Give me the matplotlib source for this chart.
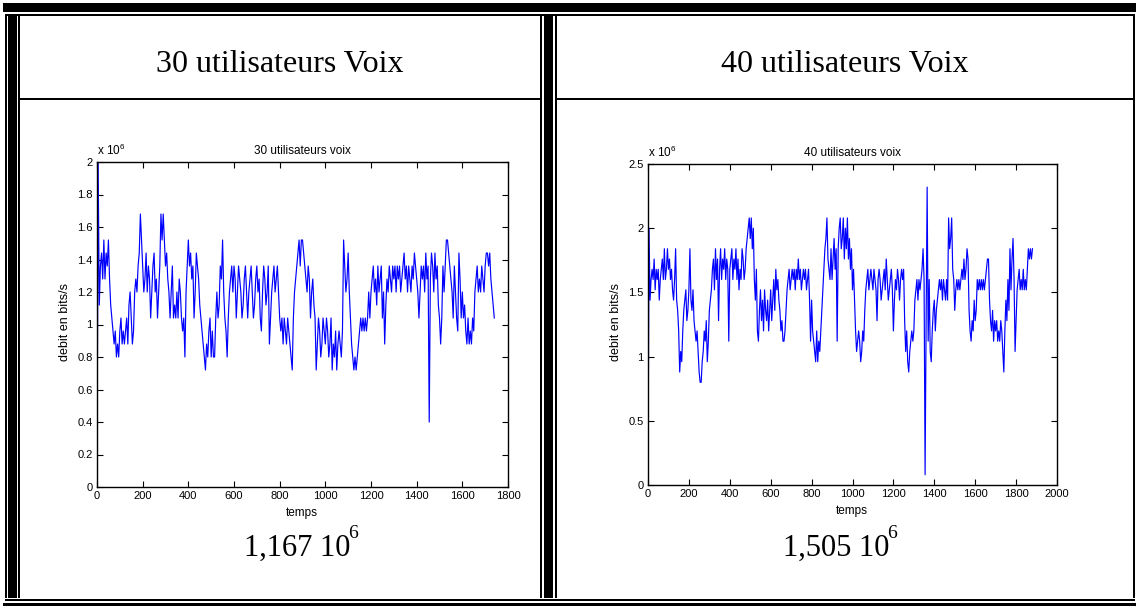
import numpy as np
import matplotlib.pyplot as plt
from matplotlib.patches import Rectangle
from matplotlib.ticker import FormatStrFormatter

plt.rcParams['font.family'] = ['Liberation Sans', 'DejaVu Sans']
plt.rcParams['mathtext.default'] = 'regular'

# debit (Mbit/s), one sample every 5 time steps
step = 5
debit_30 = [
    0, 2.0, 1.12, 1.36, 1.44, 1.28, 1.52, 1.28, 1.44, 1.36, 1.52, 1.28, 1.12, 1.04, 0.96, 0.88, 0.96, 0.8, 0.88, 0.8,
    0.96, 1.04, 0.88, 0.96, 0.88, 0.96, 1.04, 0.88, 1.12, 1.2, 1.04, 0.88, 0.96, 1.2, 1.28, 1.2, 1.36, 1.44, 1.68, 1.52,
    1.36, 1.2, 1.28, 1.44, 1.2, 1.36, 1.28, 1.04, 1.2, 1.36, 1.44, 1.2, 1.28, 1.04, 1.2, 1.36, 1.68, 1.52, 1.68, 1.52,
    1.36, 1.44, 1.28, 1.2, 1.04, 1.2, 1.36, 1.04, 1.12, 1.04, 1.2, 1.04, 1.28, 1.2, 1.04, 0.96, 1.04, 0.8, 1.2, 1.36,
    1.52, 1.36, 1.44, 1.28, 1.36, 1.04, 1.2, 1.44, 1.36, 1.28, 1.12, 1.04, 0.96, 0.88, 0.8, 0.72, 0.88, 0.8, 0.96, 1.04,
    0.8, 0.96, 0.8, 0.8, 1.04, 1.2, 1.04, 1.12, 1.36, 1.28, 1.52, 1.2, 1.04, 0.96, 0.8, 1.04, 1.2, 1.28, 1.36, 1.2,
    1.36, 1.28, 1.04, 1.2, 1.36, 1.28, 1.2, 1.04, 1.12, 1.28, 1.36, 1.2, 1.04, 1.2, 1.28, 1.36, 1.2, 1.04, 1.12, 1.28,
    1.36, 1.2, 1.28, 1.04, 0.96, 1.2, 1.36, 1.28, 1.12, 1.2, 1.36, 0.88, 1.04, 1.2, 1.28, 1.36, 1.2, 1.28, 1.36, 1.2,
    1.04, 0.96, 1.04, 0.88, 1.04, 0.96, 0.88, 1.04, 0.96, 0.88, 0.8, 0.72, 1.04, 1.2, 1.28, 1.36, 1.44, 1.52, 1.36, 1.52,
    1.52, 1.44, 1.36, 1.28, 1.2, 1.36, 1.28, 1.04, 1.2, 1.28, 1.12, 1.04, 0.72, 0.88, 1.04, 0.96, 0.8, 0.88, 1.04, 0.96,
    0.88, 1.04, 0.96, 0.8, 0.88, 1.04, 0.72, 0.88, 0.8, 0.96, 0.72, 0.88, 0.96, 0.88, 0.8, 0.96, 1.52, 1.36, 1.2, 1.28,
    1.44, 1.2, 1.04, 0.88, 0.8, 0.72, 0.8, 0.72, 0.8, 0.88, 0.96, 1.04, 0.96, 1.04, 0.96, 1.04, 0.96, 1.04, 1.2, 1.04,
    1.2, 1.28, 1.36, 1.2, 1.28, 1.12, 1.36, 1.2, 1.28, 1.36, 1.04, 1.2, 0.88, 1.12, 1.28, 1.2, 1.36, 1.28, 1.2, 1.36,
    1.28, 1.36, 1.2, 1.36, 1.28, 1.36, 1.2, 1.28, 1.36, 1.44, 1.28, 1.36, 1.2, 1.36, 1.28, 1.2, 1.36, 1.28, 1.44, 1.36,
    1.28, 1.2, 1.04, 1.2, 1.36, 1.28, 1.36, 1.2, 1.44, 1.28, 1.36, 0.4, 1.28, 1.44, 1.36, 1.2, 1.44, 1.28, 1.36, 1.12,
    1.04, 0.88, 1.04, 1.36, 1.2, 1.36, 1.52, 1.52, 1.44, 1.36, 1.28, 1.2, 1.04, 1.36, 1.2, 1.04, 0.96, 1.44, 1.28, 1.04,
    1.2, 1.04, 1.12, 0.96, 0.88, 1.04, 0.88, 0.96, 0.88, 1.04, 0.96, 1.2, 1.28, 1.36, 1.2, 1.28, 1.2, 1.36, 1.28, 1.2,
    1.36, 1.44, 1.44, 1.36, 1.44, 1.28, 1.2, 1.12, 1.04,
]
debit_40 = [
    0, 2.0, 1.44, 1.6, 1.68, 1.6, 1.76, 1.52, 1.68, 1.6, 1.68, 1.44, 1.6, 1.68, 1.76, 1.6, 1.84, 1.6, 1.68, 1.84,
    1.68, 1.76, 1.6, 1.68, 1.52, 1.44, 1.6, 1.84, 1.44, 1.36, 1.2, 0.88, 1.04, 0.96, 1.2, 1.36, 1.44, 1.52, 1.28, 1.36,
    1.52, 1.84, 1.44, 1.36, 1.52, 1.28, 1.2, 1.12, 1.2, 1.04, 0.88, 0.8, 0.8, 0.96, 1.04, 1.2, 1.12, 1.28, 0.96, 1.12,
    1.36, 1.44, 1.52, 1.68, 1.76, 1.52, 1.84, 1.6, 1.76, 1.28, 1.68, 1.84, 1.6, 1.76, 1.68, 1.84, 1.6, 1.76, 1.68, 1.12,
    1.68, 1.76, 1.84, 1.6, 1.76, 1.68, 1.84, 1.6, 1.76, 1.52, 1.68, 1.6, 1.84, 1.76, 1.6, 1.68, 1.84, 1.92, 2.0, 2.08,
    1.92, 2.08, 1.84, 2.0, 1.6, 1.44, 1.68, 1.2, 1.12, 1.36, 1.52, 1.28, 1.44, 1.2, 1.52, 1.36, 1.28, 1.44, 1.2, 1.36,
    1.52, 1.28, 1.44, 1.6, 1.36, 1.68, 1.52, 1.6, 1.44, 1.36, 1.2, 1.28, 1.12, 1.12, 1.2, 1.36, 1.52, 1.6, 1.68, 1.52,
    1.6, 1.68, 1.6, 1.68, 1.52, 1.68, 1.6, 1.76, 1.6, 1.68, 1.52, 1.6, 1.68, 1.6, 1.68, 1.52, 1.6, 1.68, 1.44, 1.12,
    1.44, 1.2, 1.12, 1.04, 0.96, 1.2, 0.96, 1.12, 1.04, 1.2, 1.36, 1.52, 1.68, 1.84, 1.92, 2.08, 1.76, 1.68, 1.6, 1.84,
    1.6, 1.76, 1.92, 1.68, 1.84, 1.12, 1.84, 2.0, 2.08, 1.84, 1.92, 2.08, 1.76, 2.0, 1.84, 2.08, 1.76, 1.92, 1.68, 1.84,
    1.52, 1.68, 1.44, 1.2, 1.04, 1.12, 1.2, 1.12, 0.96, 1.04, 1.2, 1.12, 1.36, 1.52, 1.6, 1.68, 1.52, 1.6, 1.68, 1.6,
    1.52, 1.68, 1.6, 1.52, 1.28, 1.6, 1.68, 1.6, 1.44, 1.52, 1.6, 1.68, 1.52, 1.76, 1.6, 1.44, 1.52, 1.6, 1.68, 1.52,
    1.2, 1.44, 1.6, 1.52, 1.68, 1.6, 1.44, 1.6, 1.68, 1.6, 1.68, 1.28, 1.04, 1.2, 0.96, 0.88, 1.04, 1.12, 1.2, 1.12,
    1.2, 1.44, 1.52, 1.6, 1.44, 1.6, 1.52, 1.6, 1.68, 1.84, 1.6, 0.08, 1.28, 2.32, 1.12, 1.6, 1.04, 0.96, 1.2, 1.36,
    1.44, 1.2, 1.36, 1.44, 1.52, 1.6, 1.52, 1.6, 1.44, 1.6, 1.52, 1.44, 1.6, 1.44, 2.08, 1.84, 1.92, 2.08, 1.68, 1.6,
    1.36, 1.52, 1.6, 1.52, 1.6, 1.52, 1.6, 1.68, 1.6, 1.76, 1.6, 1.68, 1.84, 1.76, 1.36, 1.2, 1.12, 1.28, 1.2, 1.44,
    1.28, 1.36, 1.6, 1.52, 1.6, 1.52, 1.6, 1.52, 1.6, 1.52, 1.6, 1.68, 1.76, 1.76, 1.44, 1.28, 1.2, 1.36, 1.12, 1.28,
    1.2, 1.28, 1.12, 1.2, 1.12, 1.28, 1.2, 1.04, 0.88, 1.2, 1.44, 1.28, 1.6, 1.36, 1.84, 1.52, 1.76, 1.92, 1.6, 1.04,
    1.28, 1.52, 1.6, 1.68, 1.52, 1.6, 1.52, 1.68, 1.52, 1.6, 1.52, 1.68, 1.84, 1.76, 1.84, 1.76, 1.84,
]

headers = ['30 utilisateurs Voix', '40 utilisateurs Voix']
titles = ['30 utilisateurs voix', '40 utilisateurs voix']
moyennes = [('1,167 10', '6'), ('1,505 10', '6')]
x_max = [1800, 2000]
y_max = [2.0, 2.5]
y_step = [0.2, 0.5]

fig = plt.figure(figsize=(11.36, 6.06), dpi=100)
renderer = fig.canvas.get_renderer()

# table drawn in pixel coordinates
frame = fig.add_axes([0, 0, 1, 1])
frame.set_xlim(0, 1136)
frame.set_ylim(606, 0)
frame.axis('off')

def bar(x0, y0, x1, y1):
    frame.add_patch(Rectangle((x0, y0), x1 - x0, y1 - y0, color='black', lw=0))

bar(3, 3, 1136, 12)
bar(5, 14, 1135, 16)
for x0, x1 in [(5, 7), (8, 17), (18, 20), (540, 542), (544, 553), (555, 557), (1133, 1135)]:
    bar(x0, 14, x1, 598)
bar(20, 98, 540, 100)
bar(557, 98, 1133, 100)
bar(5, 599, 1135, 601)
bar(3, 603, 1136, 606)

serif = ['Liberation Serif', 'DejaVu Serif']
frame.text(280, 72, headers[0], family=serif, fontsize=23, ha='center', va='baseline')
frame.text(845, 72, headers[1], family=serif, fontsize=23, ha='center', va='baseline')

def power_text(xc, yb, mant, expo):
    t1 = frame.text(0, yb, mant, family=serif, fontsize=22, va='baseline')
    t2 = frame.text(0, yb - 18, expo, family=serif, fontsize=14, va='baseline')
    w1 = t1.get_window_extent(renderer).width
    w2 = t2.get_window_extent(renderer).width
    x0 = xc - (w1 + w2) / 2
    t1.set_x(x0)
    t2.set_x(x0 + w1 - 2)

power_text(302, 556, *moyennes[0])
power_text(841, 556, *moyennes[1])

# the two matlab plots
boxes = [[97 / 1136, 119 / 606, 411 / 1136, 325 / 606],
         [648 / 1136, 121 / 606, 409 / 1136, 321 / 606]]
series = [debit_30, debit_40]
xlab = [(302, 516), (852, 514)]
ylab = [(65, 322), (616, 322)]
expo = [(97, 155), (648, 157)]

for i in range(2):
    ax = fig.add_axes(boxes[i])
    y = np.array(series[i])
    t = np.arange(len(y)) * step
    ax.plot(t, y, color='#0000ff', lw=0.85)
    ax.set_xlim(0, x_max[i])
    ax.set_ylim(0, y_max[i])
    ax.set_xticks(np.arange(0, x_max[i] + 1, 200))
    ax.set_yticks(np.arange(0, y_max[i] + 1e-9, y_step[i]))
    ax.yaxis.set_major_formatter(FormatStrFormatter('%g'))
    ax.tick_params(direction='in', top=True, right=True, length=4, width=0.8,
                   labelsize=8, pad=3)
    for s in ax.spines.values():
        s.set_linewidth(1)
    ax.set_title(titles[i], fontsize=8.5, pad=6)
    frame.text(xlab[i][0], xlab[i][1], 'temps', fontsize=8.5, ha='center', va='baseline')
    frame.text(ylab[i][0], ylab[i][1], 'debit en bits/s', fontsize=9,
               rotation=90, ha='center', va='center')
    frame.text(expo[i][0], expo[i][1], 'x 10$^6$', fontsize=8.5, va='baseline')

fig.savefig('out.png', dpi=100)
